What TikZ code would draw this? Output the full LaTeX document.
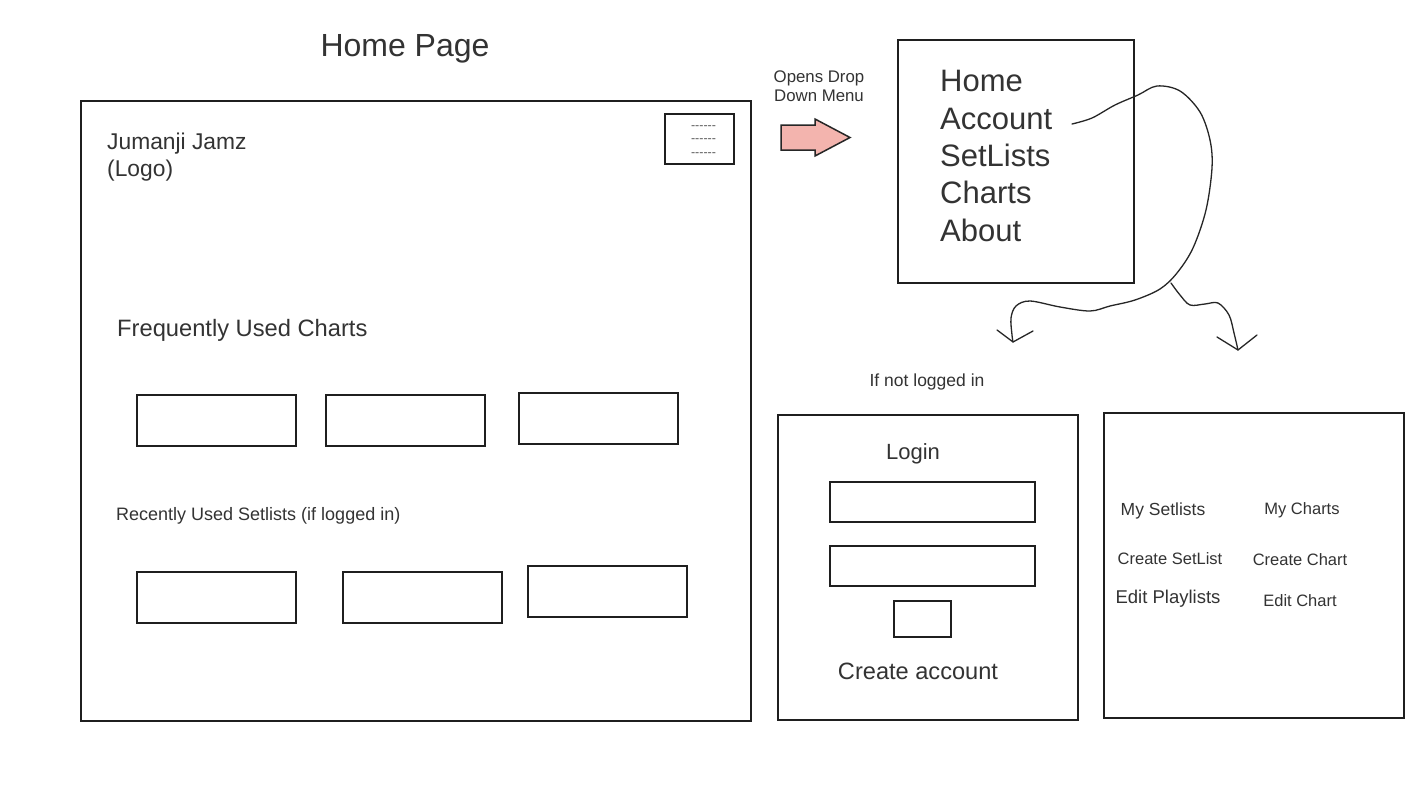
\documentclass[tikz,border=0pt]{standalone}
\usepackage{fontspec}
\setmainfont{Liberation Sans}
\definecolor{salmon}{RGB}{243,180,174}
\begin{document}
\begin{tikzpicture}[x=1pt,y=-1pt,
  ink/.style={draw=black!88,line width=1.8pt},
  frame/.style={ink,rectangle,inner sep=0pt,anchor=north west},
  txt/.style={text=black!80,inner sep=0pt},
  pen/.style={draw=black!85,line width=1.3pt,line cap=round,line join=round},
]
\useasboundingbox[fill=white] (0,0) rectangle (1422,800);

% ---- home page wireframe ----
\node[txt,anchor=base,font=\fontsize{32}{38}\selectfont] (title) at (405,57) {Home Page};
\node[frame,minimum width=670,minimum height=620] (page) at (80,100) {};
\node[txt,anchor=base west,font=\fontsize{22.8}{27}\selectfont,align=left] (logo) at (107,176) {Jumanji Jamz\\(Logo)};

% hamburger button
\node[frame,minimum width=69,minimum height=50] (menubtn) at (664,113) {};
\foreach \yy in {129.5,142.5,156.5}
  \node[txt,text=black!65,anchor=base,font=\fontsize{12.5}{13}\selectfont] at (703.5,\yy) {-{}-{}-{}-{}-{}-};

\node[txt,anchor=base west,font=\fontsize{23.7}{28}\selectfont] (freq) at (117,336) {Frequently Used Charts};
\node[frame,minimum width=159,minimum height=51] (c1) at (136,394) {};
\node[frame,minimum width=159,minimum height=51] (c2) at (325,394) {};
\node[frame,minimum width=159,minimum height=51] (c3) at (518,392) {};

\node[txt,anchor=base west,font=\fontsize{18}{21}\selectfont] (recent) at (116,520) {Recently Used Setlists (if logged in)};
\node[frame,minimum width=159,minimum height=51] (s1) at (136,571) {};
\node[frame,minimum width=159,minimum height=51] (s2) at (342,571) {};
\node[frame,minimum width=159,minimum height=51] (s3) at (527,565) {};

% ---- drop down ----
\node[txt,anchor=base,font=\fontsize{16.8}{20}\selectfont,align=center] (opens) at (819,102) {Opens Drop\\Down Menu};
\fill[fill=salmon,draw=black!85,line width=1.5pt,line join=miter]
  (781,125) -- (815,125) -- (815,119) -- (850,137.5) -- (815,156) -- (815,150) -- (781,150) -- cycle;

\node[frame,minimum width=236,minimum height=243] (menu) at (897,39) {};
\begin{scope}[every node/.style={txt,anchor=base west,font=\fontsize{31}{37}\selectfont}]
  \node (home) at (940,92) {Home};
  \node (acct) at (940,129) {Account};
  \node (sets) at (940,166) {SetLists};
  \node (charts) at (940,203) {Charts};
  \node (about) at (940,241) {About};
\end{scope}

% hand-drawn connectors from Account
\coordinate (a0) at (1072,124);
\coordinate (tipL) at (1013,342);
\coordinate (split) at (1171,283);
\coordinate (tipR) at (1238,350);
\draw[pen] plot[smooth,tension=0.55] coordinates {
  (a0) (1092,118) (1115,105) (1138,95) (1157,86) (1180,91) (1200,112)
  (1210,140) (1212,168) (1206,210) (1193,248) (1177,273) (1160,289)
  (1135,300) (1110,306) (1090,311) (1060,307) (1030,301) (1016,306)
  (1011,318) (1012,335) (tipL)};
\draw[pen] (997,330) -- (tipL) -- (1033,331);
\draw[pen] plot[smooth,tension=0.55] coordinates {
  (split) (1180,295) (1190,305) (1205,304) (1218,303) (1229,315) (1234,333) (tipR)};
\draw[pen] (1217,337) -- (tipR) -- (1257,335);

% ---- login panel ----
\node[txt,anchor=base,font=\fontsize{17.5}{20}\selectfont] (notlogged) at (927,386) {If not logged in};
\node[frame,minimum width=300,minimum height=305] (login) at (777,414) {};
\node[txt,anchor=base,font=\fontsize{22}{25}\selectfont] (logintitle) at (913,459) {Login};
\node[frame,minimum width=205,minimum height=40] (user) at (829,481) {};
\node[frame,minimum width=205,minimum height=40] (pass) at (829,545) {};
\node[frame,minimum width=57,minimum height=36] (submit) at (893,600) {};
\node[txt,anchor=base,font=\fontsize{23.6}{26}\selectfont] (create) at (918,679) {Create account};

% ---- account panel ----
\node[frame,minimum width=300,minimum height=305] (account) at (1103,412) {};
\begin{scope}[every node/.style={txt,anchor=base,font=\fontsize{16.5}{20}\selectfont}]
  \node[font=\fontsize{17.5}{20}\selectfont] (mysets) at (1163,515) {My Setlists};
  \node (mycharts) at (1302,514) {My Charts};
  \node (newset) at (1170,564) {Create SetList};
  \node (newchart) at (1300,565) {Create Chart};
  \node[font=\fontsize{18.5}{20}\selectfont] (editpl) at (1168,603) {Edit Playlists};
  \node (editchart) at (1300,606) {Edit Chart};
\end{scope}
\end{tikzpicture}
\end{document}
